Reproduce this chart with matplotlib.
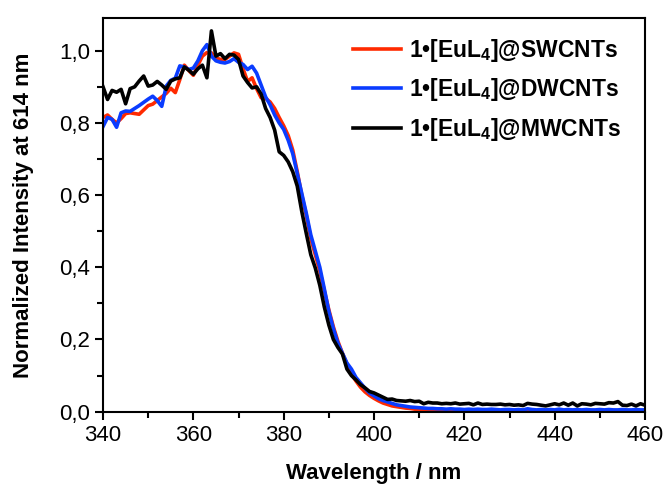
import matplotlib
matplotlib.use("Agg")
import matplotlib.pyplot as plt
from matplotlib.ticker import MultipleLocator, FuncFormatter
import numpy as np

wavelength = np.arange(340, 461, 1)

sw_cnt = [
    0.815, 0.822, 0.810, 0.800, 0.812, 0.826, 0.828, 0.826, 0.824, 0.836,
    0.848, 0.852, 0.862, 0.872, 0.882, 0.896, 0.884, 0.920, 0.960, 0.945,
    0.932, 0.960, 0.985, 0.995, 0.994, 0.980, 0.976, 0.976, 0.985, 0.994,
    0.990, 0.950, 0.915, 0.925, 0.895, 0.870, 0.868, 0.858, 0.840, 0.815,
    0.792, 0.765, 0.725, 0.665, 0.600, 0.545, 0.480, 0.435, 0.390, 0.335,
    0.282, 0.235, 0.195, 0.162, 0.132, 0.105, 0.085, 0.068, 0.055, 0.045,
    0.037, 0.030, 0.024, 0.020, 0.016, 0.014, 0.012, 0.010, 0.009, 0.007,
    0.007, 0.006, 0.006, 0.005, 0.005, 0.004, 0.005, 0.004, 0.004, 0.003,
    0.004, 0.003, 0.004, 0.003, 0.003, 0.002, 0.003, 0.003, 0.002, 0.003,
    0.002, 0.003, 0.002, 0.002, 0.003, 0.002, 0.002, 0.003, 0.002, 0.002,
    0.003, 0.002, 0.002, 0.002, 0.003, 0.002, 0.002, 0.002, 0.003, 0.002,
    0.002, 0.002, 0.002, 0.003, 0.002, 0.002, 0.002, 0.002, 0.002, 0.002,
    0.002,
]

dw_cnt = [
    0.790, 0.815, 0.810, 0.788, 0.828, 0.833, 0.832, 0.840, 0.848, 0.857,
    0.866, 0.874, 0.862, 0.846, 0.902, 0.918, 0.924, 0.958, 0.955, 0.948,
    0.952, 0.972, 1.000, 1.017, 0.985, 0.972, 0.968, 0.966, 0.970, 0.978,
    0.968, 0.962, 0.948, 0.957, 0.938, 0.905, 0.872, 0.850, 0.822, 0.800,
    0.782, 0.752, 0.715, 0.660, 0.605, 0.550, 0.490, 0.445, 0.400, 0.340,
    0.278, 0.230, 0.190, 0.162, 0.135, 0.118, 0.095, 0.080, 0.065, 0.052,
    0.044, 0.036, 0.031, 0.027, 0.023, 0.019, 0.017, 0.015, 0.013, 0.012,
    0.011, 0.010, 0.009, 0.009, 0.008, 0.008, 0.007, 0.008, 0.007, 0.007,
    0.006, 0.007, 0.006, 0.007, 0.006, 0.006, 0.007, 0.006, 0.005, 0.006,
    0.006, 0.005, 0.006, 0.005, 0.008, 0.006, 0.005, 0.006, 0.005, 0.006,
    0.005, 0.007, 0.005, 0.006, 0.005, 0.006, 0.005, 0.006, 0.005, 0.005,
    0.006, 0.005, 0.006, 0.005, 0.005, 0.006, 0.005, 0.005, 0.006, 0.005,
    0.005,
]

mw_cnt = [
    0.900, 0.865, 0.890, 0.885, 0.893, 0.853, 0.895, 0.900, 0.916, 0.930,
    0.902, 0.905, 0.915, 0.905, 0.893, 0.916, 0.922, 0.925, 0.955, 0.946,
    0.935, 0.950, 0.960, 0.925, 1.055, 0.985, 0.992, 0.978, 0.990, 0.988,
    0.976, 0.930, 0.912, 0.897, 0.900, 0.880, 0.840, 0.815, 0.780, 0.720,
    0.710, 0.692, 0.665, 0.625, 0.555, 0.494, 0.435, 0.398, 0.350, 0.290,
    0.240, 0.200, 0.178, 0.160, 0.118, 0.100, 0.088, 0.075, 0.066, 0.056,
    0.052, 0.046, 0.040, 0.034, 0.035, 0.031, 0.030, 0.029, 0.031, 0.028,
    0.029, 0.022, 0.026, 0.024, 0.024, 0.022, 0.023, 0.022, 0.024, 0.021,
    0.022, 0.023, 0.019, 0.024, 0.020, 0.021, 0.020, 0.020, 0.021, 0.019,
    0.020, 0.018, 0.019, 0.017, 0.023, 0.021, 0.020, 0.018, 0.016, 0.019,
    0.022, 0.019, 0.024, 0.018, 0.024, 0.016, 0.022, 0.021, 0.019, 0.023,
    0.022, 0.021, 0.025, 0.024, 0.028, 0.018, 0.017, 0.021, 0.016, 0.022,
    0.018,
]

labels = ["1\u2022[EuL$_4$]@SWCNTs", "1\u2022[EuL$_4$]@DWCNTs", "1\u2022[EuL$_4$]@MWCNTs"]
colors = ["#ff2a00", "#0a3cff", "black"]

plt.rcParams["font.family"] = ["Liberation Sans", "DejaVu Sans"]
plt.rcParams["mathtext.fontset"] = "custom"
plt.rcParams["mathtext.rm"] = "Liberation Sans:bold"
plt.rcParams["mathtext.it"] = "Liberation Sans:bold"
plt.rcParams["mathtext.bf"] = "Liberation Sans:bold"

fig = plt.figure(figsize=(6.66, 4.86), dpi=100)
ax = fig.add_axes([0.1547, 0.1529, 0.8138, 0.810])

for ys, lab, col in zip([sw_cnt, dw_cnt, mw_cnt], labels, colors):
    ax.plot(wavelength, ys, color=col, lw=2.6, label=lab)

ax.set_xlim(340, 460)
ax.set_ylim(0, 1.0906)
ax.xaxis.set_major_locator(MultipleLocator(20))
ax.xaxis.set_minor_locator(MultipleLocator(10))
ax.yaxis.set_major_locator(MultipleLocator(0.2))
ax.yaxis.set_minor_locator(MultipleLocator(0.1))
ax.yaxis.set_major_formatter(FuncFormatter(lambda v, p: f"{v:.1f}".replace(".", ",")))

ax.tick_params(which="both", direction="out", top=False, right=False, width=1.5)
ax.tick_params(which="major", length=6, labelsize=16)
ax.tick_params(which="minor", length=4)
for s in ax.spines.values():
    s.set_linewidth(1.5)

ax.set_xlabel("Wavelength / nm", fontsize=16, fontweight="bold", labelpad=12)
ax.set_ylabel("Normalized Intensity at 614 nm", fontsize=16, fontweight="bold", labelpad=18)

leg = ax.legend(loc="upper left", frameon=False, prop={"size": 16.5, "weight": "bold"},
                handlelength=2.1, handletextpad=0.35, labelspacing=0.55,
                borderpad=0, borderaxespad=0, bbox_to_anchor=(0.461, 0.953))

fig.savefig("out.png", dpi=100)
